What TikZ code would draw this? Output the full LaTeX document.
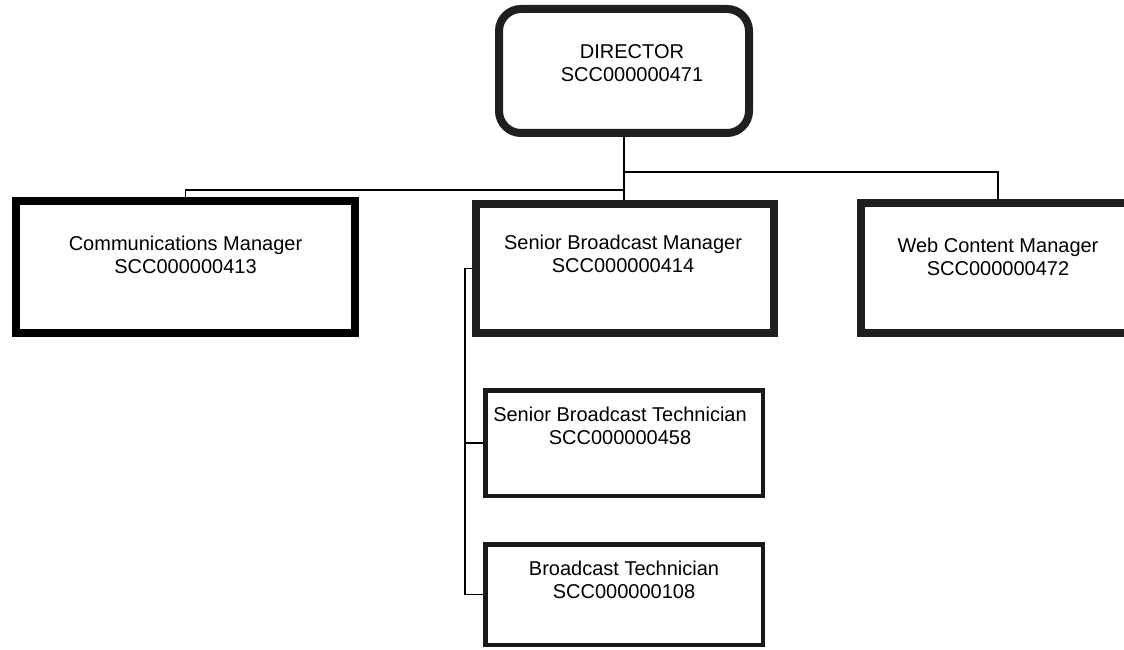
\documentclass[tikz,border=0pt]{standalone}
\usepackage{fontspec}
\setmainfont{Liberation Sans}
\usetikzlibrary{calc}
\begin{document}
\begin{tikzpicture}[x=1pt,y=-1pt,
  box/.style={draw=black!88,line width=8pt,inner sep=0pt,fill=white},
  solidbox/.style={box,draw=black},
  thinbox/.style={box,draw=black!90,line width=4.5pt},
  txt/.style={align=center,inner sep=0pt,font=\fontsize{20pt}{22.5pt}\selectfont},
  link/.style={draw=black,line width=1.6pt}]
\useasboundingbox (0,0) rectangle (1124,650);
\clip (0,0) rectangle (1124,650);
\fill[white] (0,0) rectangle (1124,650);

% connectors
\coordinate (hub) at (624,172);
% boxes
\node[box,rounded corners=22pt,minimum width=250pt,minimum height=124pt] (dir) at (624,71) {};
\node[solidbox,minimum width=339pt,minimum height=132pt] (cm) at (185.5,267) {};
\node[box,minimum width=298pt,minimum height=129pt] (sbm) at (625,268.5) {};
\node[box,minimum width=274pt,minimum height=130pt] (wcm) at (998,268) {};
\node[thinbox,minimum width=277.5pt,minimum height=105.5pt] (sbt) at (624,443) {};
\node[thinbox,minimum width=277.5pt,minimum height=100.5pt] (bt) at (624,594.5) {};

% lines between the boxes
\draw[link] (dir.south) -- (dir.south |- sbm.north);
\draw[link] (dir.south |- hub) -| (wcm.north);
\draw[link] ($(dir.south)+(0,53)$) -| (cm.north);
\draw[link] (sbm.west) -- ++(-7,0) coordinate (bus) |- (sbt.west);
\draw[link] (bus) |- (bt.west);

% labels
\node[txt] (dir-t) at ($(dir.north)+(8,58)$) {DIRECTOR\\SCC000000471};
\node[txt] (cm-t) at ($(cm.north)+(0,58)$) {Communications Manager\\SCC000000413};
\node[txt] (sbm-t) at ($(sbm.north)+(-2,54)$) {Senior Broadcast Manager\\SCC000000414};
\node[txt] (wcm-t) at ($(wcm.north)+(0,58)$) {Web Content Manager\\SCC000000472};
\node[txt] (sbt-t) at ($(sbt.north)+(-4,38)$) {Senior Broadcast Technician\\SCC000000458};
\node[txt] (bt-t) at ($(bt.north)+(0,38)$) {Broadcast Technician\\SCC000000108};
\end{tikzpicture}
\end{document}
